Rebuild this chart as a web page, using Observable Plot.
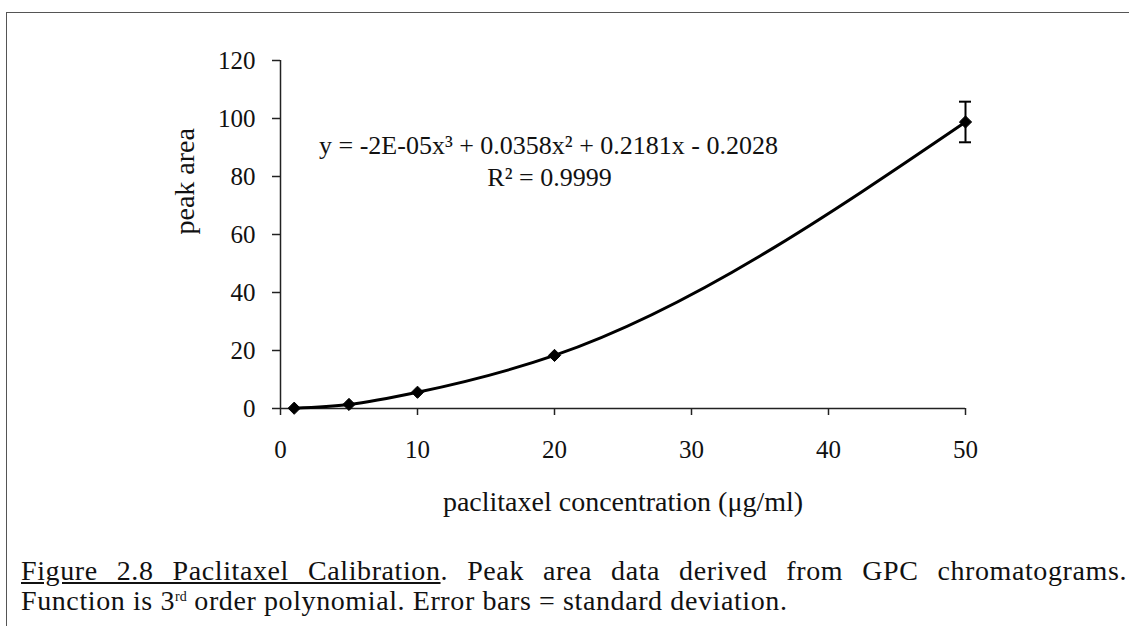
<!DOCTYPE html>
<html>
<head>
<meta charset="utf-8">
<script src="https://cdn.jsdelivr.net/npm/d3@7"></script>
<script src="https://cdn.jsdelivr.net/npm/@observablehq/plot@0.6"></script>
<style>
  html, body { margin: 0; padding: 0; background: #fff; }
  #page { position: relative; width: 1129px; height: 626px; overflow: hidden; background: #fff;
          font-family: "Liberation Serif", "Times New Roman", serif; color: #111; }
  #frame { position: absolute; left: 6px; top: 12px; width: 1200px; height: 700px;
           border-left: 1.5px solid #555; border-top: 1.5px solid #555; }
  #chart { position: absolute; left: 0; top: 0; }
  #chart svg, #chart svg text { font-family: "Liberation Serif", "Times New Roman", serif; }
  .cap { position: absolute; left: 21px; width: 1106px; font-size: 28px; line-height: 28px; letter-spacing: 0.6px; white-space: nowrap; }
  #l1 { top: 557px; text-align: justify; text-align-last: justify; }
  #l2 { top: 587px; }
  #l2 .sup { font-size: 14px; line-height: 14px; position: relative; top: -9px; letter-spacing: 0; }
</style>
</head>
<body>
<div id="page">
  <div id="frame"></div>
  <div id="chart"></div>
  <div class="cap" id="l1"><u>Figure 2.8 Paclitaxel Calibration</u>. Peak area data derived from GPC chromatograms.</div>
  <div class="cap" id="l2">Function is 3<span class="sup">rd</span> order polynomial. Error bars = standard deviation.</div>
</div>
<script>
// ---- data ----
const concentration = [1, 5, 10, 20, 50];          // µg/ml
const peakArea      = [0.1, 1.4, 5.6, 18.3, 98.8];  // peak area
const stdDev        = [0.05, 0.2, 0.4, 0.6, 7.0];   // standard deviation
const xTicks = [0, 10, 20, 30, 40, 50];
const yTicks = [0, 20, 40, 60, 80, 100, 120];
const equationLines = ["y = -2E-05x³ + 0.0358x² + 0.2181x - 0.2028", "R² = 0.9999"];
const xLabel = "paclitaxel concentration (μg/ml)";
const yLabel = "peak area";

const data = concentration.map((c, i) => ({x: c, y: peakArea[i], lo: peakArea[i] - stdDev[i], hi: peakArea[i] + stdDev[i]}));
const bars = data.filter(d => d.hi - d.lo > 4);

const TICK_FONT = 25;
const plot = Plot.plot({
  width: 1129,
  height: 530,
  marginLeft: 280,
  marginRight: 164,
  marginTop: 60,
  marginBottom: 122,
  style: {fontFamily: "Liberation Serif, Times New Roman, serif", fontSize: TICK_FONT + "px", color: "#111", background: "transparent"},
  x: {domain: [0, 50]},
  y: {domain: [0, 120]},
  marks: [
    Plot.axisY({ticks: yTicks, tickSize: 8, tickPadding: 17, tickFormat: d => String(d), label: null, fontSize: TICK_FONT, stroke: "#222", strokeWidth: 1.5}),
    Plot.axisX({ticks: xTicks, tickSize: 7, tickPadding: 25, tickFormat: d => String(d), label: null, fontSize: TICK_FONT, stroke: "#222", strokeWidth: 1.5}),
    Plot.ruleX([0], {stroke: "#222", strokeWidth: 1.5}),
    Plot.ruleY([0], {stroke: "#222", strokeWidth: 1.5}),
    Plot.line(data, {x: "x", y: "y", curve: "monotone-x", stroke: "#000", strokeWidth: 3}),
    Plot.ruleX(bars, {x: "x", y1: "lo", y2: "hi", stroke: "#000", strokeWidth: 2}),
    Plot.ruleY(bars, {y: "lo", x1: "x", x2: "x", insetLeft: -6, insetRight: -6, stroke: "#000", strokeWidth: 2}),
    Plot.ruleY(bars, {y: "hi", x1: "x", x2: "x", insetLeft: -6, insetRight: -6, stroke: "#000", strokeWidth: 2}),
    Plot.dot(data, {x: "x", y: "y", symbol: "diamond2", r: 5.5, fill: "#000", stroke: "#000", strokeWidth: 1}),
    Plot.text([equationLines[0]], {text: d => d, frameAnchor: "top-left", dx: 268, dy: 85, textAnchor: "middle", lineAnchor: "middle", fontSize: 26, fill: "#111"}),
    Plot.text([equationLines[1]], {text: d => d, frameAnchor: "top-left", dx: 269, dy: 117, textAnchor: "middle", lineAnchor: "middle", fontSize: 26, fill: "#111"}),
    Plot.text([xLabel], {text: d => d, frameAnchor: "bottom", dx: 0, dy: 94, lineAnchor: "middle", fontSize: 28, fill: "#111"}),
    Plot.text([yLabel], {text: d => d, frameAnchor: "left", dx: -95, rotate: -90, lineAnchor: "middle", fontSize: 28, fill: "#111"})
  ]
});
document.getElementById("chart").appendChild(plot);
</script>
</body>
</html>
